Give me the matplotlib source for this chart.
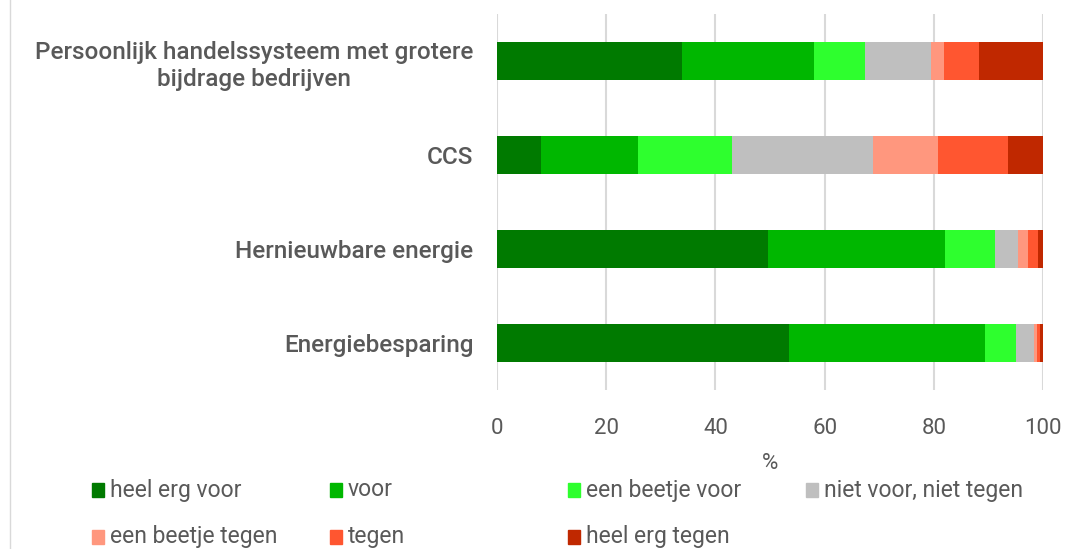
import numpy as np
import matplotlib.pyplot as plt
from matplotlib.lines import Line2D
from matplotlib.patches import Rectangle

plt.rcParams['font.family'] = ['Roboto', 'DejaVu Sans']

categories = ["Persoonlijk handelssysteem met grotere\nbijdrage bedrijven",
              "CCS", "Hernieuwbare energie", "Energiebesparing"]
series = ["heel erg voor", "voor", "een beetje voor", "niet voor, niet tegen",
          "een beetje tegen", "tegen", "heel erg tegen"]
heel_erg_voor = [33.9, 8.1, 49.7, 53.4]
voor = [24.1, 17.7, 32.3, 36.0]
beetje_voor = [9.4, 17.3, 9.2, 5.6]
neutraal = [12.1, 25.8, 4.3, 3.3]
beetje_tegen = [2.3, 11.8, 1.8, 0.6]
tegen = [6.5, 12.9, 1.8, 0.6]
heel_erg_tegen = [11.7, 6.4, 0.9, 0.5]
colors = ["#007A00", "#00B700", "#2EFF2E", "#BFBFBF", "#FF977E", "#FF5630", "#C02800"]

values = [heel_erg_voor, voor, beetje_voor, neutraal, beetje_tegen, tegen, heel_erg_tegen]

fig = plt.figure(figsize=(10.67, 5.49), dpi=100)
ax = fig.add_axes([497/1067, 1-390/549, 546/1067, 376/549])

y = np.arange(len(categories))[::-1]
left = np.zeros(len(categories))
for name, vals, c in zip(series, values, colors):
    ax.barh(y, vals, left=left, height=0.4, color=c, zorder=3)
    left += np.array(vals)

ax.set_xlim(0, 100)
ax.set_ylim(-0.5, 3.5)
ax.set_xticks([0, 20, 40, 60, 80, 100])
ax.grid(axis='x', color='#D9D9D9', linewidth=1.5, zorder=0)
for s in ax.spines.values():
    s.set_visible(False)
ax.tick_params(axis='both', length=0, colors='#595959', labelsize=16)
ax.tick_params(axis='x', pad=20)
ax.set_yticks(y)
ax.set_yticklabels(categories, fontsize=17.5, fontweight='medium', color='#595959',
                   multialignment='center', linespacing=1.25)
ax.tick_params(axis='y', pad=17)
ax.set_xlabel('%', fontsize=16, color='#595959', labelpad=10)

# legend, 4 per row
for i, (name, c) in enumerate(zip(series, colors)):
    col, row = i % 4, i // 4
    x0 = 92 + col * 238
    y0 = 490 + row * 47
    fig.add_artist(Rectangle((x0/1067, 1-(y0+7)/549), 12/1067, 14/549,
                             color=c, transform=fig.transFigure))
    fig.text((x0+18)/1067, 1-y0/549, name, fontsize=16.5, color='#595959',
             va='center', ha='left')

fig.add_artist(Line2D([10/1067, 10/1067], [0, 1], color='#D9D9D9', linewidth=1))

fig.savefig('out.png', dpi=100)
